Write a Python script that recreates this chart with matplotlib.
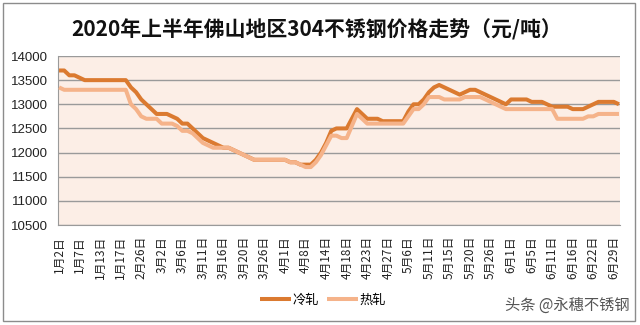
import matplotlib
matplotlib.use("Agg")
import matplotlib.pyplot as plt
from matplotlib.patches import Rectangle
import numpy as np

plt.rcParams['font.family'] = ['Noto Sans CJK SC', 'DejaVu Sans']

title = "2020年上半年佛山地区304不锈钢价格走势（元/吨）"
tick_labels = ["1月2日", "1月7日", "1月13日", "1月17日", "2月26日", "3月2日", "3月6日",
               "3月11日", "3月16日", "3月20日", "3月26日", "4月1日", "4月8日", "4月14日",
               "4月18日", "4月23日", "4月27日", "5月6日", "5月11日", "5月15日", "5月20日",
               "5月26日", "6月1日", "6月5日", "6月11日", "6月16日", "6月22日", "6月29日"]
label_step = 4  # one label every 4 data points

cold = [13700, 13700, 13600, 13600, 13550, 13500, 13500, 13500, 13500, 13500,
        13500, 13500, 13500, 13500, 13350, 13250, 13100, 13000, 12900, 12800,
        12800, 12800, 12750, 12700, 12600, 12600, 12500, 12400, 12300, 12250,
        12200, 12150, 12100, 12100, 12050, 12000, 11950, 11900, 11850, 11850,
        11850, 11850, 11850, 11850, 11850, 11800, 11800, 11750, 11750, 11750,
        11850, 12000, 12200, 12450, 12500, 12500, 12500, 12700, 12900, 12800,
        12700, 12700, 12700, 12650, 12650, 12650, 12650, 12650, 12850, 13000,
        13000, 13100, 13250, 13350, 13400, 13350, 13300, 13250, 13200, 13250,
        13300, 13300, 13250, 13200, 13150, 13100, 13050, 13000, 13100, 13100,
        13100, 13100, 13050, 13050, 13050, 13000, 12950, 12950, 12950, 12950,
        12900, 12900, 12900, 12950, 13000, 13050, 13050, 13050, 13050, 13000]

hot = [13350, 13300, 13300, 13300, 13300, 13300, 13300, 13300, 13300, 13300,
       13300, 13300, 13300, 13300, 13000, 12900, 12750, 12700, 12700, 12700,
       12600, 12600, 12600, 12550, 12450, 12450, 12400, 12300, 12200, 12150,
       12100, 12100, 12100, 12100, 12050, 12000, 11950, 11900, 11850, 11850,
       11850, 11850, 11850, 11850, 11850, 11800, 11800, 11750, 11700, 11700,
       11800, 11950, 12150, 12350, 12350, 12300, 12300, 12550, 12800, 12700,
       12600, 12600, 12600, 12600, 12600, 12600, 12600, 12600, 12750, 12900,
       12900, 13000, 13150, 13150, 13150, 13100, 13100, 13100, 13100, 13150,
       13150, 13150, 13150, 13100, 13050, 13000, 12950, 12900, 12900, 12900,
       12900, 12900, 12900, 12900, 12900, 12900, 12900, 12700, 12700, 12700,
       12700, 12700, 12700, 12750, 12750, 12800, 12800, 12800, 12800, 12800]

series_names = ["冷轧", "热轧"]
y_ticks = [10500, 11000, 11500, 12000, 12500, 13000, 13500, 14000]

c_cold = "#DB7A30"
c_hot = "#F5B38A"
bg = "#FCEEE6"

fig = plt.figure(figsize=(6.4, 3.25), dpi=100)
fig.patch.set_facecolor("white")
ax = fig.add_axes([58/640, 1-225/325, (620-58)/640, (225-56)/325])
ax.set_facecolor(bg)

x = np.arange(len(cold))
ax.plot(x, cold, color=c_cold, lw=2.9, solid_joinstyle='round', solid_capstyle='butt', label=series_names[0], zorder=3)
ax.plot(x, hot, color=c_hot, lw=2.9, solid_joinstyle='round', solid_capstyle='butt', label=series_names[1], zorder=4)

ax.set_ylim(10500, 14000)
ax.set_xlim(-0.2, len(cold) - 1 + 0.2)
ax.set_yticks(y_ticks)
ax.set_yticklabels([str(v) for v in y_ticks], family=['Liberation Sans', 'DejaVu Sans'], fontsize=9.5, color="#222222")
ax.set_xticks(np.arange(len(tick_labels)) * label_step)
ax.set_xticklabels(tick_labels, rotation=90, fontsize=8.5, color="#222222")
ax.tick_params(axis='both', length=0)
ax.tick_params(axis='y', pad=7)
ax.tick_params(axis='x', pad=8)
ax.grid(axis='y', color="#9A9A9A", lw=1.0, zorder=1)
ax.set_axisbelow(True)
for s in ['top', 'right']:
    ax.spines[s].set_visible(False)
ax.spines['left'].set_color("#9A9A9A")
ax.spines['bottom'].set_color("#9A9A9A")

fig.text(0.495, 1-30/325, title, ha='center', va='center', fontsize=15, fontweight='bold', color="#111111")

leg = fig.legend(loc='center', bbox_to_anchor=(0.505, 1-300/325), ncol=2, frameon=False,
                 fontsize=9.5, handlelength=2.3, handletextpad=0.15, columnspacing=0.6)

fig.text(630/640, 1-305/325, "头条 @永穗不锈钢", ha='right', va='center', fontsize=11, color="#555555")

fig.patches.append(Rectangle((3/640, 1-321/325), (635-3)/640, (321-3)/325, transform=fig.transFigure,
                             fill=False, edgecolor="#8C8C8C", lw=1.0))

fig.savefig("out.png", dpi=100)
